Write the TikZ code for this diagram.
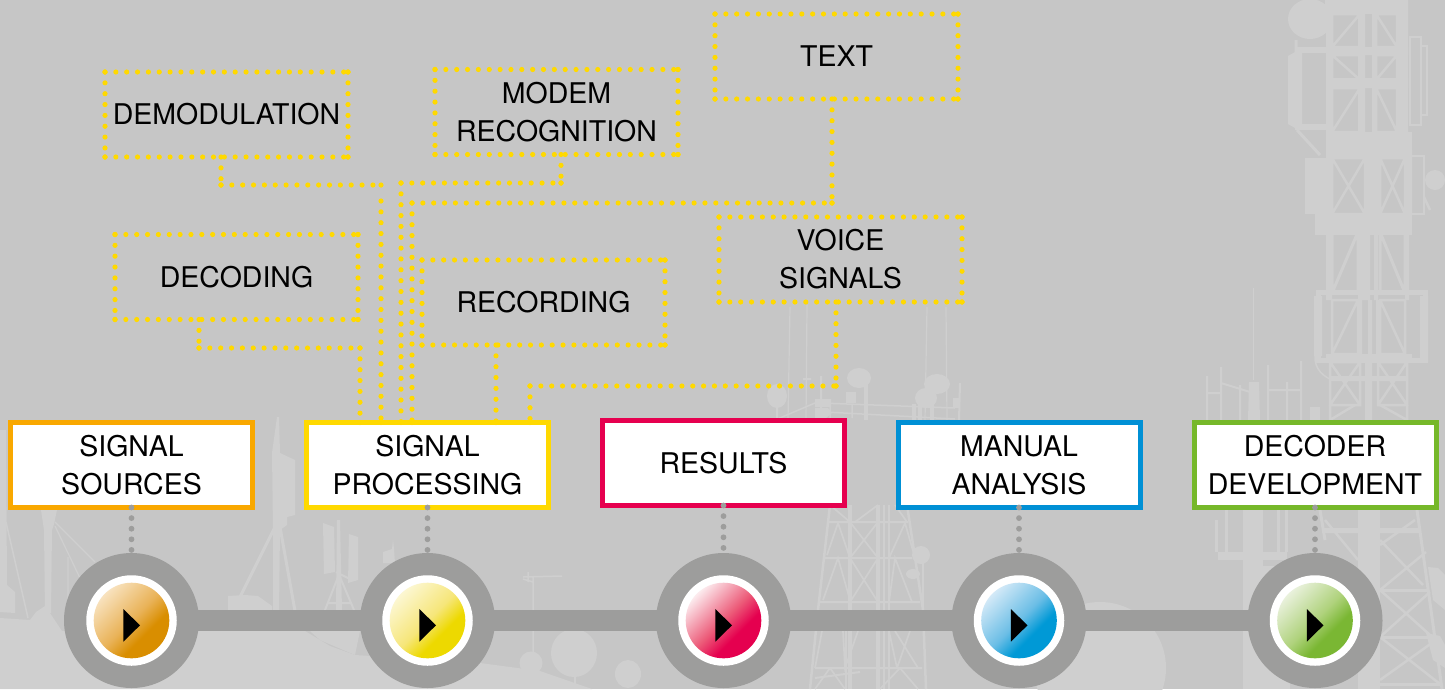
\documentclass[tikz,border=0pt]{standalone}
\usepackage{fontspec}
\setmainfont{TeX Gyre Heros}
\usetikzlibrary{calc}
\definecolor{bgc}{HTML}{C6C6C6}
\definecolor{sil}{HTML}{CFCFCF}
\definecolor{ringc}{HTML}{9D9D9C}
\definecolor{dotc}{HTML}{FFD900}
\definecolor{cOr}{HTML}{F9A800}
\definecolor{cYe}{HTML}{FFD900}
\definecolor{cRe}{HTML}{E6004F}
\definecolor{cBl}{HTML}{0090D5}
\definecolor{cGr}{HTML}{76B82A}
\definecolor{oPale}{HTML}{F8E2BE}\definecolor{oMid}{HTML}{E9B257}\definecolor{oDeep}{HTML}{D98E00}
\definecolor{yPale}{HTML}{FCF7D2}\definecolor{yMid}{HTML}{F6E67A}\definecolor{yDeep}{HTML}{EDD900}
\definecolor{rPale}{HTML}{FCEBEE}\definecolor{rMid}{HTML}{EC5A78}\definecolor{rDeep}{HTML}{E5004F}
\definecolor{bPale}{HTML}{D3E9F7}\definecolor{bMid}{HTML}{6BBEE6}\definecolor{bDeep}{HTML}{0099D6}
\definecolor{gPale}{HTML}{E9F1DC}\definecolor{gMid}{HTML}{AFD27C}\definecolor{gDeep}{HTML}{7AB733}
\newcommand{\mkshade}[2]{%
  \pgfdeclareverticalshading{#1}{100bp}{color(0bp)=(#2Deep); color(37bp)=(#2Deep); color(50bp)=(#2Mid); color(75bp)=(#2Pale); color(100bp)=(#2Pale)}}
\mkshade{shO}{o}\mkshade{shY}{y}\mkshade{shR}{r}\mkshade{shB}{b}\mkshade{shG}{g}
\tikzset{
  lbl/.style={font=\fontsize{28.5}{38}\selectfont, align=center, text=black, inner sep=0pt, outer sep=0pt},
  planbox/.style={lbl, minimum width=243pt, minimum height=85pt},
  stagebox/.style={lbl, draw=#1, line width=5pt, fill=white, minimum width=242pt, minimum height=85pt},
  yd/.style={draw=dotc, line width=5.2pt, line cap=round, dash pattern=on 0pt off 10.85pt},
  gd/.style={draw=ringc, line width=5.8pt, line cap=round, dash pattern=on 0pt off 10.6pt},
  ring/.style={circle, fill=ringc, minimum size=135pt, inner sep=0pt, outer sep=0pt},
  whitering/.style={circle, fill=white, minimum size=90.5pt, inner sep=0pt},
  barline/.style={draw=ringc, line width=21pt},
  sl/.style={draw=sil, line width=#1},
  sl/.default=2pt
}
% dotted segment that always ends on a dot, as in the reference
\newcommand{\dseg}[2]{%
  \draw[yd] (#1) -- (#2);
  \fill[dotc] (#2) circle[radius=2.6pt];
}
\newcommand{\dotrect}[1]{%
  \dseg{#1.north west}{#1.north east}
  \dseg{#1.north east}{#1.south east}
  \dseg{#1.south west}{#1.south east}
  \dseg{#1.north west}{#1.south west}
}
% lattice bays: frame with crossed, rising or falling braces
\newcommand{\bay}[5][3pt]{\draw[sl=#1] (#2,#3) rectangle (#4,#5) (#2,#3) -- (#4,#5) (#4,#3) -- (#2,#5);}
\newcommand{\ubay}[5][3pt]{\draw[sl=#1] (#2,#3) rectangle (#4,#5) (#4,#3) -- (#2,#5);}
\newcommand{\dbay}[5][3pt]{\draw[sl=#1] (#2,#3) rectangle (#4,#5) (#2,#3) -- (#4,#5);}
\newcommand{\stage}[3]{% index, x, shading
  \node[ring] (ring#1) at (#2,620.5) {};
  \node[whitering] (white#1) at (ring#1.center) {};
  \shade[shading=#3, shading angle=45] (ring#1.center) circle[radius=37.8pt];
  \fill[black] ($(ring#1.center)+(-8.2,-11.5)$) -- ($(ring#1.center)+(8.5,4.8)$) -- ($(ring#1.center)+(-8.2,21.2)$) -- cycle;
}
\begin{document}
\begin{tikzpicture}[x=1pt,y=-1pt]
\useasboundingbox (0,0) rectangle (1445,689);
\begin{scope}
\clip (0,0) rectangle (1445,689);
\fill[bgc] (0,0) rectangle (1445,689);

% ---- ground and left silhouettes
\fill[sil] (0,618) -- (30,620) -- (36,612) -- (45,606) -- (46,613) -- (50,613) -- (62,631) -- (305,631) -- (330,646) -- (355,655) -- (480,663) -- (540,671) -- (592,689) -- (0,689) -- cycle;
\fill[sil] (0,430) -- (6,430) -- (7,585) -- (15,592) -- (15,613) -- (0,612) -- cycle;
\draw[sl=1.5pt] (6,522) -- (28,618);
\fill[sil] (41,510) -- (57,510) -- (54,524) -- (52,530) -- (51,613) -- (45,613) -- (44,530) -- cycle;
\draw[sl=1.2pt] (55,522) -- (95,562) (55,526) -- (80,578) (68,557) -- (68,612);
% mast with tripod
\fill[sil] (277,417) -- (279,417) -- (280,453) -- (295,460) -- (295,515) -- (287,517) -- (287,525) -- (280,530) -- (279,612) -- (273,612) -- (273,530) -- (272,453) -- cycle;
\draw[sl=3pt] (275,527) -- (240,597) (280,527) -- (295,611);
\fill[sil] (228,596) -- (245,595) -- (258,596) -- (272,606) -- (272,611) -- (228,611) -- cycle;
% panel antenna
\fill[sil] (323,523) -- (334,527) -- (335,572) -- (324,574) -- cycle;
\fill[sil] (337,520) -- (340,520) -- (342,610) -- (336,610) -- cycle;
\fill[sil] (349,534) -- (358,537) -- (358,580) -- (348,583) -- cycle;
\draw[sl=2pt] (338,577) -- (325,610) (340,577) -- (354,610) (328,603) -- (350,603) (336,572) -- (352,580);
\fill[sil] (310,631) -- (320,640) -- (355,655) -- (360,631) -- cycle;
\fill[sil] (383,552) -- (392,549) -- (393,540) -- (394,549) -- (395,563) -- (383,563) -- cycle;
% small antenna and balloons
\draw[sl=1.5pt] (533,576) -- (533,655) (523,577) -- (562,576) (523,579) -- (533,582) (528,572) -- (528,582);
\fill[sil] (574,653) ellipse[x radius=23pt, y radius=24pt];
\fill[sil] (628,674) ellipse[x radius=13pt, y radius=14pt];
\fill[sil] (531,663) circle[radius=11.5pt];
\draw[sl=2pt] (575,675) -- (575,684);

% ---- central tower, top
\foreach \px/\py/\prx/\pry in {859/378/12/10, 777/396/10/12, 937/384/13/10, 926/398/11/10}
  \fill[sil] (\px,\py) ellipse[x radius=\prx pt, y radius=\pry pt];
\draw[sl=1.2pt] (790,307) -- (788,420) (807,305) -- (806,420) (927,307) -- (925,420) (946,307) -- (947,420);
\draw[sl=2pt] (821,376) -- (821,420) (960,383) -- (959,420) (777,405) -- (777,420) (803,379) -- (811,379);
\draw[sl=1.5pt] (775,420) -- (815,403) (820,403) -- (955,408) (825,412) -- (955,419) (830,402) -- (830,418) (852,405) -- (852,418);
\draw[sl=4.5pt] (866,385) -- (866,420) (914,404) -- (914,420) (920,404) -- (920,420) (932,395) -- (932,420);
\fill[sil] (846,392) rectangle (856,403);
\fill[sil] (815,399) rectangle (831,407) (815,408) -- (828,408) -- (832,413) -- (826,418) -- (815,418) -- cycle;
\fill[sil] (953,398) rectangle (960,408);

% ---- central tower, body
\draw[sl=2.5pt] (830,505) -- (818,610) -- (810,689) (907,505) -- (923,610) -- (926,689);
\draw[sl=3.5pt] (850,505) -- (850,689) (878,505) -- (878,689);
\draw[sl=2pt] (884,505) -- (884,689) (889,505) -- (889,689) (846,631) -- (846,689);
\draw[sl=2pt] (829,522) -- (908,522) (825,558) -- (912,558) (820,602) -- (920,602) (815,668) -- (922,668) (815,678) -- (860,672);
\draw[sl=1.7pt] (827,555) -- (838,523) -- (850,558) (850,522) -- (878,558) (878,522) -- (850,558) (889,558) -- (905,523) -- (915,558)
  (823,600) -- (838,558) -- (850,600) (850,558) -- (878,602) (878,558) -- (850,602) (889,602) -- (895,558) -- (912,602)
  (830,505) -- (850,522) (878,505) -- (855,522) (895,505) -- (907,522)
  (815,668) -- (822,631) (843,631) -- (845,668) -- (858,631) (895,631) -- (918,668) (897,668) -- (889,631) (910,631) -- (897,668)
  (830,668) -- (815,689) (830,668) -- (845,689) (900,668) -- (880,689) (900,668) -- (918,689);
\fill[sil] (921,555) circle[radius=9pt] (913,574) ellipse[x radius=7pt, y radius=5pt];
\draw[sl=2pt] (923,560) -- (923,610);
\fill[sil] (1100,668) circle[radius=66pt];

% ---- small tower left of the big one
\draw[sl=1pt] (1253,288) -- (1253,380);
\draw[sl=2pt] (1207,376) -- (1207,420) (1221,367) -- (1221,420) (1268,365) -- (1268,420) (1287,382) -- (1287,420) (1301,361) -- (1301,420)
  (1221,383) -- (1250,392) (1207,393) -- (1221,393) (1240,385) -- (1240,420) (1268,390) -- (1301,390);
\fill[sil] (1249,382) -- (1259,382) -- (1260,420) -- (1248,420) -- cycle;
\fill[sil] (1310,407) rectangle (1320,420);
\fill[sil] (1243,510) rectangle (1263,689);
\fill[sil] (1218,552) rectangle (1287,560);
\draw[sl=3pt] (1216,520) -- (1216,552) (1226,510) -- (1226,552) (1278,510) -- (1278,552) (1286,510) -- (1286,552);
\fill[sil] (1262,566) -- (1290,566) -- (1290,689) -- (1262,689) -- cycle;

% ---- big tower, top part
\fill[sil] (1310,19) ellipse[x radius=22pt, y radius=20pt];
\fill[sil] (1325,0) rectangle (1408,14);
\ubay[2.5pt]{1332}{14}{1360}{47}
\dbay[2.5pt]{1376}{14}{1397}{47}
\dbay[2.5pt]{1332}{55}{1360}{80}
\ubay[2.5pt]{1376}{55}{1397}{80}
\ubay[2.5pt]{1332}{88}{1360}{132}
\dbay[2.5pt]{1376}{88}{1397}{132}
\fill[sil] (1358,14) rectangle (1365,140) (1372,14) rectangle (1377,140) (1397,0) rectangle (1408,145) (1326,14) rectangle (1332,145);
\fill[sil] (1326,47) rectangle (1408,55) (1326,78) rectangle (1408,88);
\fill[sil] (1288,56) -- (1295,52) -- (1302,52) -- (1302,125) -- (1295,128) -- (1288,124) -- cycle;
\fill[sil] (1295,47) rectangle (1328,53);
\fill[sil] (1295,124) rectangle (1328,130);
\draw[sl=3pt] (1296,40) -- (1296,52) (1297,130) -- (1320,155);
\draw[sl=2.5pt] (1410,37) rectangle (1421,125) (1421,46) rectangle (1427,115);
\fill[sil] (1326,132) rectangle (1412,158);
% second bay group
\fill[sil] (1305,158) rectangle (1332,214);
\fill[sil] (1315,214) rectangle (1412,235);
\bay[2.5pt]{1332}{158}{1365}{214}
\bay[2.5pt]{1380}{158}{1405}{214}
\fill[sil] (1365,158) rectangle (1380,214) (1405,150) rectangle (1412,214);
\draw[sl=2.5pt] (1410,156) rectangle (1424,214);
\fill[sil] (1435,180) ellipse[x radius=10pt, y radius=10pt];
\draw[sl=2.5pt] (1424,197) -- (1430,210);
% third group
\ubay[3pt]{1332}{232}{1358}{293}
\dbay[3pt]{1380}{232}{1405}{293}
\fill[sil] (1358,225) rectangle (1370,300) (1374,225) rectangle (1378,300) (1326,225) rectangle (1332,300) (1405,225) rectangle (1409,300);
\draw[sl=5pt] (1318,292) rectangle (1425,360);
\fill[sil] (1314,296) rectangle (1322,356) (1420,296) rectangle (1428,362);
\ubay[2.5pt]{1332}{300}{1358}{354}
\dbay[2.5pt]{1380}{300}{1405}{354}
\fill[sil] (1358,300) rectangle (1362,354) (1368,300) rectangle (1372,354) (1376,300) rectangle (1380,354);
\draw[sl=1.5pt] (1316,350) .. controls (1312,365) and (1320,375) .. (1332,380);
\fill[sil] (1326,354) rectangle (1412,362);
% lower mast, down to the bottom
\bay[2.5pt]{1330}{362}{1360}{405}
\bay[2.5pt]{1378}{362}{1407}{405}
\fill[sil] (1365,362) rectangle (1372,420) (1330,376) rectangle (1407,381);
\draw[sl=2.5pt] (1330,405) -- (1330,420) (1407,405) -- (1407,420) (1330,420) -- (1355,405) (1407,420) -- (1380,405);
% below the stage boxes
\fill[sil] (1358,510) rectangle (1380,689);
\draw[sl=3pt] (1320,510) -- (1325,540) (1417,510) -- (1442,689);
\fill[sil] (1322,528) rectangle (1358,533) (1380,528) rectangle (1420,533);
\draw[sl=2.5pt] (1325,520) -- (1358,560) (1380,545) -- (1415,520) (1380,540) -- (1423,585) (1380,590) -- (1426,552)
  (1380,590) -- (1430,635) (1380,637) -- (1430,592) (1380,637) -- (1440,684) (1380,680) -- (1436,640);
\draw[sl=3pt] (1380,590) -- (1428,590) (1380,637) -- (1434,637) (1380,684) -- (1441,684);
\fill[sil] (1428,567) -- (1438,568) -- (1445,575) -- (1445,610) -- (1433,600) -- cycle;
\fill[sil] (1426,633) -- (1440,636) -- (1445,645) -- (1445,668) -- (1433,660) -- cycle;

\end{scope}

% ---- planning boxes
\node[planbox] (demod) at (226.5,114.5) {DEMODULATION};
\node[planbox] (modem) at (556.5,112) {MODEM\\RECOGNITION};
\node[planbox] (textb) at (836.5,56.5) {TEXT};
\node[planbox] (decod) at (236.5,277) {DECODING};
\node[planbox] (recor) at (543.5,302.5) {RECORDING};
\node[planbox] (voice) at (840.5,259.5) {VOICE\\SIGNALS};
\foreach \n in {demod,modem,textb,decod,recor,voice} {\dotrect{\n}}

% ---- stage boxes
\node[stagebox=cOr] (src) at (131.5,465) {SIGNAL\\SOURCES};
\node[stagebox=cYe] (proc) at (427.5,465) {SIGNAL\\PROCESSING};
\node[stagebox=cRe] (resl) at (723.5,463) {RESULTS};
\node[stagebox=cBl] (manu) at (1019,465) {MANUAL\\ANALYSIS};
\node[stagebox=cGr] (deco) at (1315,465) {DECODER\\DEVELOPMENT};

% ---- dotted yellow connectors
\coordinate (j1a) at (221,185);
\coordinate (j1b) at (381,185);
\coordinate (j1c) at (381,201);
\coordinate (j2a) at (561,183);
\coordinate (j2b) at (401,183);
\coordinate (j3a) at (832,203);
\coordinate (j3b) at (412,203);
\coordinate (j4a) at (199,348);
\coordinate (j4b) at (360,348);
\coordinate (j5a) at (836,386);
\coordinate (j5b) at (530,386);
\coordinate (j6) at (496,345);
\dseg{demod.south -| j1a}{j1a}
\dseg{j1a}{j1b}
\dseg{j1c}{j1c |- proc.north}
\dseg{modem.south -| j2a}{j2a}
\dseg{j2b}{j2a}
\dseg{j2b}{j2b |- proc.north}
\dseg{textb.south -| j3a}{j3a}
\dseg{j3b}{j3a}
\dseg{j3b}{j3b |- proc.north}
\dseg{decod.south -| j4a}{j4a}
\dseg{j4a}{j4b}
\dseg{j4b}{j4b |- proc.north}
\dseg{recor.south -| j6}{j6 |- proc.north}
\dseg{voice.south -| j5a}{j5a}
\dseg{j5b}{j5a}
\dseg{j5b}{j5b |- proc.north}

% ---- timeline
\stage{1}{131.5}{shO}
\stage{2}{427.5}{shY}
\stage{3}{723.5}{shR}
\stage{4}{1019}{shB}
\stage{5}{1315}{shG}
\draw[barline] ($(ring1.east)+(-3,0)$) -- ($(ring2.west)+(3,0)$);
\draw[barline] ($(ring2.east)+(-3,0)$) -- ($(ring3.west)+(3,0)$);
\draw[barline] ($(ring3.east)+(-3,0)$) -- ($(ring4.west)+(3,0)$);
\draw[barline] ($(ring4.east)+(-3,0)$) -- ($(ring5.west)+(3,0)$);
\draw[gd] (src.south) -- (ring1.north);
\draw[gd] (proc.south) -- (ring2.north);
\draw[gd] (resl.south) -- (ring3.north);
\draw[gd] (manu.south) -- (ring4.north);
\draw[gd] (deco.south) -- (ring5.north);
\end{tikzpicture}
\end{document}
